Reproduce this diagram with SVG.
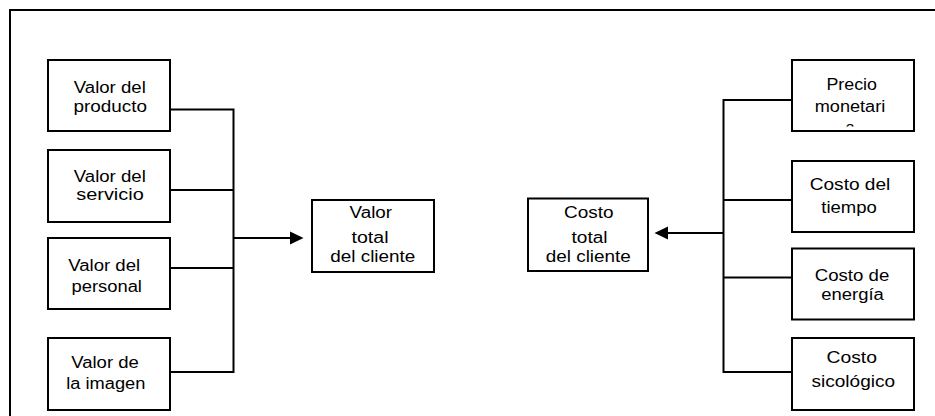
<svg xmlns="http://www.w3.org/2000/svg" width="935" height="416" viewBox="0 0 935 416">
<style>
.box{fill:#fff;stroke:#000;stroke-width:2}
.ln{fill:none;stroke:#000;stroke-width:2}
text{font-family:"Liberation Sans",Arial,sans-serif;font-size:16px;fill:#000;text-anchor:middle}
</style>
<defs>
<clipPath id="clipP"><rect x="792" y="60" width="122" height="66.5"/></clipPath>
</defs>
<rect width="935" height="416" fill="#fff"/>
<g id="frame">
<path class="ln" d="M10,416 V10 H935"/>
</g>
<g id="connectors">
<path class="ln" d="M166,109.5 H233.5 M166,190 H233.5 M166,268 H233.5 M166,372 H233.5 M233.5,108.5 V373"/>
<path class="ln" d="M233.5,238 H291"/>
<polygon points="290,231.5 303.5,238 290,244.5" fill="#000"/>
<path class="ln" d="M723.5,100 H792 M723.5,200 H792 M723.5,277.5 H792 M723.5,372 H792 M723.5,99 V373"/>
<path class="ln" d="M723.5,233 H667"/>
<polygon points="668,226.5 654.5,233 668,239.5" fill="#000"/>
</g>
<g id="n1"><rect class="box" x="48" y="60" width="122" height="71"/>
<text x="109.8" y="92.5" textLength="72" lengthAdjust="spacingAndGlyphs">Valor del</text>
<text x="110.3" y="112" textLength="73.5" lengthAdjust="spacingAndGlyphs">producto</text></g>
<g id="n2"><rect class="box" x="48" y="150" width="122" height="72"/>
<text x="109.8" y="181.5" textLength="72" lengthAdjust="spacingAndGlyphs">Valor del</text>
<text x="110" y="200" textLength="67.5" lengthAdjust="spacingAndGlyphs">servicio</text></g>
<g id="n3"><rect class="box" x="48" y="238" width="122" height="71"/>
<text x="104.2" y="270.5" textLength="72" lengthAdjust="spacingAndGlyphs">Valor del</text>
<text x="106.7" y="291.5" textLength="70.5" lengthAdjust="spacingAndGlyphs">personal</text></g>
<g id="n4"><rect class="box" x="48" y="338" width="122" height="72"/>
<text x="105" y="367.5" textLength="67.5" lengthAdjust="spacingAndGlyphs">Valor de</text>
<text x="105.8" y="389" textLength="79" lengthAdjust="spacingAndGlyphs">la imagen</text></g>
<g id="valor-total"><rect class="box" x="312" y="200" width="122" height="72"/>
<text x="370.8" y="217.5" textLength="42.5" lengthAdjust="spacingAndGlyphs">Valor</text>
<text x="370" y="243.3" textLength="37" lengthAdjust="spacingAndGlyphs">total</text>
<text x="372.8" y="261.7" textLength="85" lengthAdjust="spacingAndGlyphs">del cliente</text></g>
<g id="costo-total"><rect class="box" x="528" y="198.5" width="120" height="72.5"/>
<text x="588.8" y="217.7" textLength="49.5" lengthAdjust="spacingAndGlyphs">Costo</text>
<text x="589.5" y="243.3" textLength="36" lengthAdjust="spacingAndGlyphs">total</text>
<text x="588.3" y="261.7" textLength="85" lengthAdjust="spacingAndGlyphs">del cliente</text></g>
<g id="m1"><rect class="box" x="792" y="60" width="122" height="71"/>
<text x="851.7" y="90" textLength="50.5" lengthAdjust="spacingAndGlyphs">Precio</text>
<text x="850" y="111.5" textLength="70.5" lengthAdjust="spacingAndGlyphs">monetari</text>
<text x="850" y="133" clip-path="url(#clipP)">o</text></g>
<g id="m2"><rect class="box" x="792" y="161" width="122" height="71"/>
<text x="850" y="190" textLength="80.5" lengthAdjust="spacingAndGlyphs">Costo del</text>
<text x="849" y="212.5" textLength="55.5" lengthAdjust="spacingAndGlyphs">tiempo</text></g>
<g id="m3"><rect class="box" x="792" y="248.5" width="122" height="71"/>
<text x="852" y="280.5" textLength="74.5" lengthAdjust="spacingAndGlyphs">Costo de</text>
<text x="852.5" y="300" textLength="62.5" lengthAdjust="spacingAndGlyphs">energía</text></g>
<g id="m4"><rect class="box" x="792" y="338" width="122" height="72"/>
<text x="851.7" y="363.3" textLength="50.5" lengthAdjust="spacingAndGlyphs">Costo</text>
<text x="853.3" y="386.7" textLength="83.5" lengthAdjust="spacingAndGlyphs">sicológico</text></g>
</svg>
